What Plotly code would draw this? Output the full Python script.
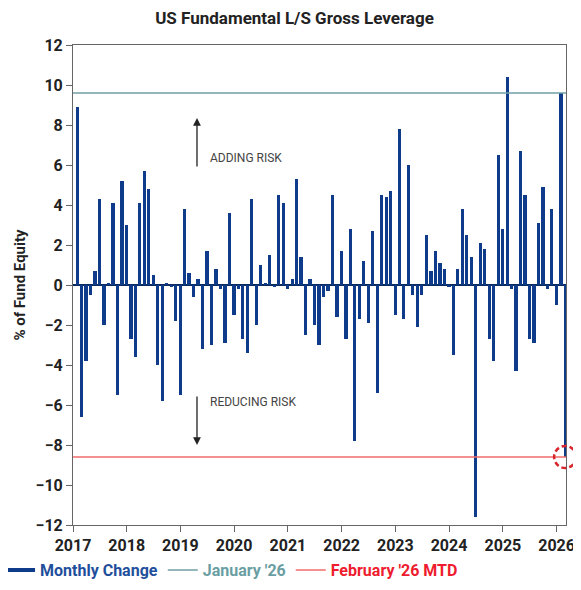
import pandas as pd
import plotly.graph_objects as go

# Monthly change in gross leverage (% of fund equity)
y2017 = [8.9, -6.6, -3.8, -0.5, 0.7, 4.3, -2.0, 0.1, 4.1, -5.5, 5.2, 3.0]
y2018 = [-2.7, -3.6, 4.1, 5.7, 4.8, 0.5, -4.0, -5.8, 0.1, -0.1, -1.8, -5.5]
y2019 = [3.8, 0.6, -0.6, 0.3, -3.2, 1.7, -3.0, 0.8, -0.2, -2.9, 3.6, -1.5]
y2020 = [-0.2, -2.7, -3.4, 4.3, -2.0, 1.0, 0.1, 1.5, -0.1, 4.5, 4.1, -0.2]
y2021 = [0.3, 5.3, 1.4, -2.5, 0.3, -2.0, -3.0, -0.6, -0.3, 4.5, -1.6, 1.7]
y2022 = [-2.7, 2.8, -7.8, -1.7, 1.2, -1.9, 2.7, -5.4, 4.5, 4.4, 4.7, -1.5]
y2023 = [7.8, -1.7, 6.0, -0.5, -2.1, -0.5, 2.5, 0.7, 1.7, 1.1, 0.8, -0.1]
y2024 = [-3.5, 0.8, 3.8, 2.5, 1.4, -11.6, 2.1, 1.8, -2.7, -3.8, 6.5, 2.8]
y2025 = [10.4, -0.2, -4.3, 6.7, 4.5, -2.7, -2.9, 3.1, 4.9, -0.2, 3.8, -1.0]
y2026 = [9.6, -8.6]

monthly_change = y2017 + y2018 + y2019 + y2020 + y2021 + y2022 + y2023 + y2024 + y2025 + y2026
dates = pd.date_range("2017-01-31", periods=len(monthly_change), freq="ME")

jan_level = 9.6    # January '26
feb_level = -8.6   # February '26 MTD

x_start, x_end = pd.Timestamp("2017-01-01"), pd.Timestamp("2026-03-06")
y_min, y_max = -12, 12

font = "Liberation Sans Narrow, Roboto, Arial, sans-serif"
blue = "#0e3c8a"
teal = "#6f9fa6"
red = "#f26b6b"

fig = go.Figure()

# bars
fig.add_trace(go.Bar(x=dates, y=monthly_change, marker_color=blue, marker_line_width=0,
                     width=22 * 24 * 3600 * 1000, showlegend=False))

# reference lines
fig.add_hline(y=jan_level, line_color=teal, line_width=1.3)
fig.add_hline(y=feb_level, line_color=red, line_width=1.3)

# legend entries
fig.add_trace(go.Scatter(x=[None], y=[None], mode="lines", line=dict(color=blue, width=4),
                         name="<span style='color:#1f4f9c'>Monthly Change</span>"))
fig.add_trace(go.Scatter(x=[None], y=[None], mode="lines", line=dict(color=teal, width=1.5),
                         name="<span style='color:#6a9ea3'>January '26</span>"))
fig.add_trace(go.Scatter(x=[None], y=[None], mode="lines", line=dict(color=red, width=1.5),
                         name="<span style='color:#ee1c2e'>February '26 MTD</span>"))

# dashed circle around latest reading (paper refs so it isn't clipped at the border)
last_xfrac = (dates[-1] - x_start) / (x_end - x_start)
last_yfrac = (monthly_change[-1] - y_min) / (y_max - y_min)
fig.add_shape(type="circle", xref="paper", yref="paper", xsizemode="pixel", ysizemode="pixel",
              xanchor=last_xfrac, yanchor=last_yfrac, x0=-11, x1=11, y0=-11, y1=11,
              line=dict(color="#d9262e", width=2.5, dash="5px,3px"))

# risk arrows + labels
fig.add_annotation(xref="paper", yref="paper", x=0.2515, y=0.848, ax=0, ay=50, text="",
                   showarrow=True, arrowhead=2, arrowsize=1.2, arrowwidth=1.3, arrowcolor="#222")
fig.add_annotation(xref="paper", yref="paper", x=0.2515, y=0.1667, ax=0, ay=-50, text="",
                   showarrow=True, arrowhead=2, arrowsize=1.2, arrowwidth=1.3, arrowcolor="#222")
fig.add_annotation(xref="paper", yref="paper", x=0.274, y=0.7646, xanchor="left", yanchor="middle",
                   text="ADDING RISK", showarrow=False, font=dict(family=font, size=12, color="#444"))
fig.add_annotation(xref="paper", yref="paper", x=0.274, y=0.256, xanchor="left", yanchor="middle",
                   text="REDUCING RISK", showarrow=False, font=dict(family=font, size=12, color="#444"))

# page body adds an 8px margin, so the figure is sized to fit the window
fig.update_layout(
    width=573, height=582,
    margin=dict(l=65, r=15, t=37, b=65, autoexpand=False),
    plot_bgcolor="white", paper_bgcolor="white",
    title=dict(text="US Fundamental L/S Gross Leverage", x=0.5, xanchor="center",
               y=1 - 10 / 582, yanchor="middle", automargin=False,
               font=dict(family=font, size=17, color="#222", weight="bold")),
    font=dict(family=font, color="#222"),
    bargap=0,
    legend=dict(orientation="h", x=-0.148, xanchor="left", y=-0.094, yanchor="middle",
                font=dict(family=font, size=16, weight="bold"), itemwidth=30,
                bgcolor="rgba(0,0,0,0)"),
)

fig.update_xaxes(
    range=[x_start, x_end], tick0="2017-01-01", dtick="M12", tickformat="%Y",
    showline=True, linecolor="#666", linewidth=1, mirror=True, automargin=False,
    ticks="outside", ticklen=6, tickcolor="#666", showgrid=False,
    tickfont=dict(family=font, size=16, color="#222", weight="bold"),
)
fig.update_yaxes(
    range=[y_min, y_max], dtick=2, automargin=False,
    showline=True, linecolor="#666", linewidth=1, mirror=True,
    ticks="outside", ticklen=6, tickcolor="#666", showgrid=False,
    zeroline=True, zerolinecolor="#0b2b5e", zerolinewidth=2,
    tickfont=dict(family=font, size=16, color="#222", weight="bold"),
    title=dict(text="% of Fund Equity", standoff=6,
               font=dict(family=font, size=15, color="#222", weight="bold")),
)

fig.write_html("out.html")
